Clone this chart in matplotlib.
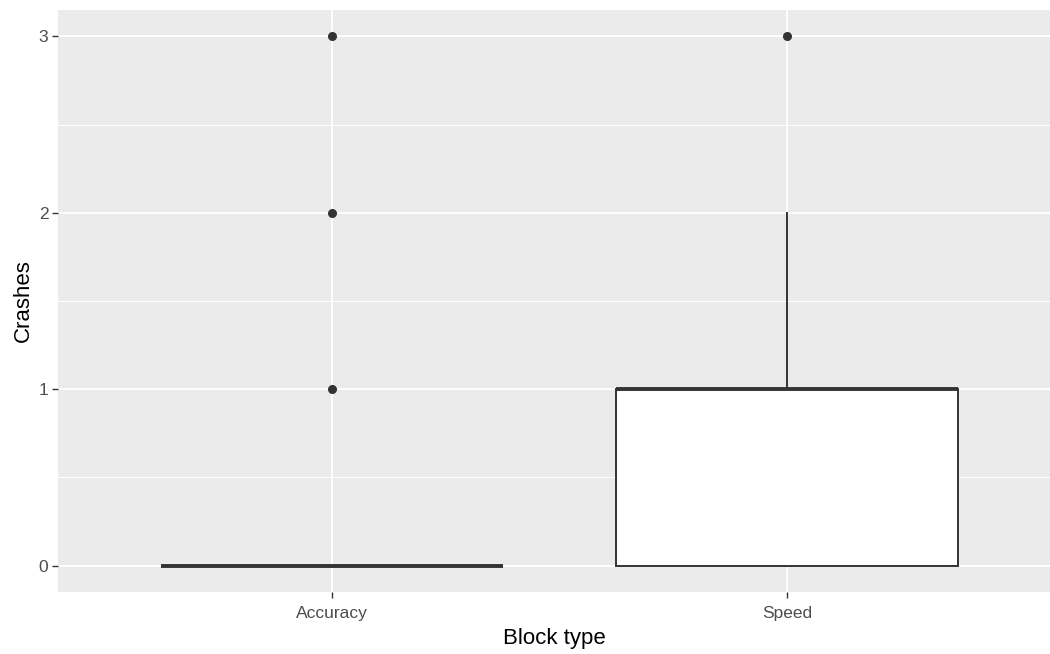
import matplotlib.pyplot as plt
import numpy as np

# boxplot summary stats
groups = ["Accuracy", "Speed"]
q1 = [0, 0]
median = [0, 1]
q3 = [0, 1]
whislo = [0, 0]
whishi = [0, 2]
outliers = [[1, 2, 3], [3]]

plt.rcParams['font.family'] = ['Liberation Sans', 'DejaVu Sans']

fig = plt.figure(figsize=(10.5, 6.54), dpi=100)
ax = fig.add_axes([58 / 1050, 62 / 654, 992 / 1050, 582 / 654])
ax.set_facecolor('#EBEBEB')

stats = []
for i, g in enumerate(groups):
    stats.append(dict(label=g, q1=q1[i], med=median[i], q3=q3[i],
                      whislo=whislo[i], whishi=whishi[i], fliers=outliers[i]))

dark = '#333333'
ax.bxp(stats, positions=[1, 2], widths=0.75, patch_artist=True, showcaps=False,
       boxprops=dict(facecolor='white', edgecolor=dark, linewidth=1.4),
       medianprops=dict(color=dark, linewidth=2.8, solid_capstyle='butt'),
       whiskerprops=dict(color=dark, linewidth=1.4),
       flierprops=dict(marker='o', markerfacecolor=dark, markeredgecolor=dark,
                       markersize=5.5, linestyle='none'),
       zorder=3)

ax.set_xlim(0.398, 2.578)
ax.set_ylim(-0.15, 3.15)
ax.set_yticks([0, 1, 2, 3])
ax.set_yticks([0.5, 1.5, 2.5], minor=True)
ax.set_xticks([1, 2])
ax.set_xticklabels(groups)

ax.grid(which='major', color='white', linewidth=1.3, zorder=0)
ax.grid(which='minor', axis='y', color='white', linewidth=0.7, zorder=0)
ax.set_axisbelow(True)
for s in ax.spines.values():
    s.set_visible(False)

ax.tick_params(which='major', length=4, width=1, color='#333333',
               labelcolor='#4D4D4D', labelsize=12.5, pad=3)
ax.tick_params(axis='x', pad=6)
ax.tick_params(which='minor', length=0)

ax.set_xlabel("Block type", fontsize=16, color='black', labelpad=5)
ax.set_ylabel("Crashes", fontsize=16, color='black', labelpad=3)

fig.savefig("out.png", dpi=100)
